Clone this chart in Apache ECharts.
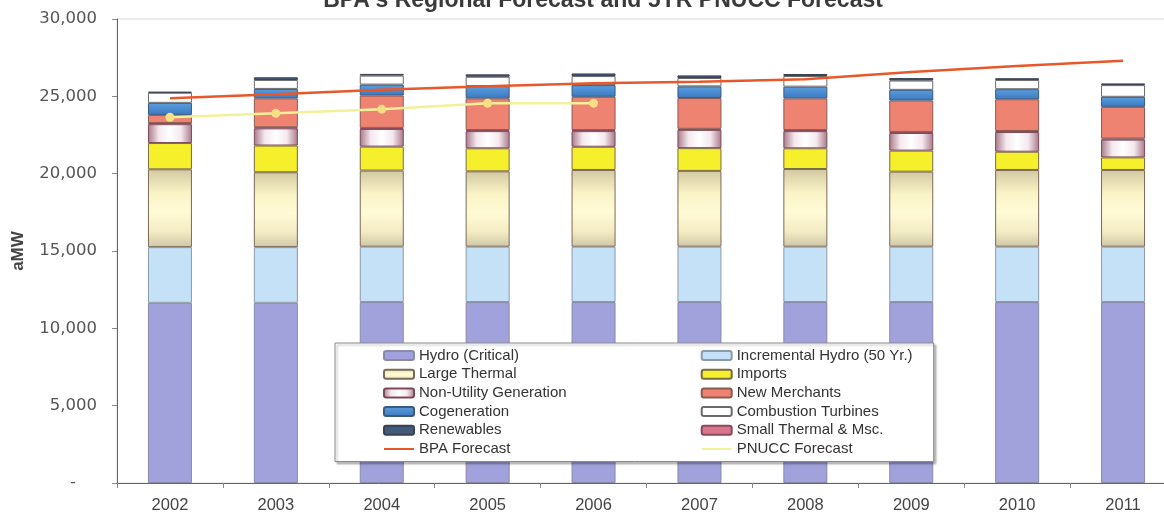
<!DOCTYPE html>
<html>
<head>
<meta charset="utf-8">
<style>
  html, body { margin: 0; padding: 0; background: #fff; }
  #chart { width: 1164px; height: 518px; }
</style>
<script src="https://cdn.jsdelivr.net/npm/echarts@6/dist/echarts.min.js"></script>
</head>
<body>
<div id="chart"></div>
<script>
// values (aMW)
const years = ['2002', '2003', '2004', '2005', '2006', '2007', '2008', '2009', '2010', '2011'];
const hydroCritical = [11650, 11650, 11700, 11700, 11700, 11700, 11700, 11700, 11700, 11700];
const incrementalHydro = [3600, 3600, 3580, 3580, 3580, 3580, 3580, 3580, 3580, 3580];
const largeThermal = [5030, 4840, 4920, 4870, 4960, 4900, 5020, 4850, 4960, 4960];
const imports = [1700, 1730, 1550, 1490, 1500, 1470, 1340, 1360, 1180, 810];
const nonUtility = [1220, 1110, 1140, 1110, 1010, 1180, 1110, 1140, 1270, 1150];
const smallThermal = [70, 70, 70, 70, 70, 70, 70, 70, 70, 70];
const newMerchants = [530, 1870, 2090, 2050, 2150, 1990, 2050, 2030, 2050, 2050];
const cogeneration = [780, 610, 710, 795, 755, 755, 755, 690, 650, 650];
const combustionTurbines = [650, 580, 580, 600, 585, 540, 690, 600, 600, 755];
const renewables = [65, 170, 110, 155, 170, 170, 130, 160, 110, 110];
const bpaForecast = [24880, 25140, 25430, 25650, 25840, 25950, 26100, 26580, 26960, 27300];
const pnuccForecast = [23650, 23900, 24170, 24550, 24560, null, null, null, null, null];

const chart = echarts.init(document.getElementById('chart'));
const G = echarts.graphic;

// fills, roughly like the old Excel picture
const fills = {
    hydro: '#a1a1dc',
    incr: '#c5e1f8',
    large: new G.LinearGradient(0, 0, 0, 1, [
        { offset: 0, color: '#d3c9a2' }, { offset: 0.3, color: '#f9f3c6' },
        { offset: 0.55, color: '#fffbd6' }, { offset: 0.8, color: '#f3ecc4' },
        { offset: 1, color: '#cfc7a8' }]),
    imports: '#f6ef2c',
    nonUtil: new G.LinearGradient(0, 0, 1, 0, [
        { offset: 0, color: '#a87888' }, { offset: 0.25, color: '#f4e8ee' },
        { offset: 0.5, color: '#ffffff' }, { offset: 0.75, color: '#f4e8ee' },
        { offset: 1, color: '#a87888' }]),
    small: '#d9748c',
    merchants: '#ef8372',
    cogen: new G.LinearGradient(0, 0, 0, 1, [
        { offset: 0, color: '#5b9fe0' }, { offset: 1, color: '#3b78bf' }]),
    ct: '#ffffff',
    renew: '#425a7e'
};

// stacking order, bottom to top
const bars = [
    ['Hydro (Critical)', hydroCritical, fills.hydro, '#8a8aa8'],
    ['Incremental Hydro (50 Yr.)', incrementalHydro, fills.incr, '#8a9aa8'],
    ['Large Thermal', largeThermal, fills.large, '#7a6a58'],
    ['Imports', imports, fills.imports, '#7a6a40'],
    ['Non-Utility Generation', nonUtility, fills.nonUtil, '#7a4a5a'],
    ['Small Thermal & Msc.', smallThermal, fills.small, '#8a4a5a'],
    ['New Merchants', newMerchants, fills.merchants, '#8a5a50'],
    ['Cogeneration', cogeneration, fills.cogen, '#3a5a80'],
    ['Combustion Turbines', combustionTurbines, fills.ct, '#6a6a6a'],
    ['Renewables', renewables, fills.renew, '#3a4050']
];

const series = bars.map(([name, data, color, border]) => ({
    name: name,
    type: 'bar',
    stack: 'supply',
    barWidth: 44,
    data: data,
    itemStyle: { color: color, borderColor: border, borderWidth: 1 },
    emphasis: { disabled: true }
}));

series.push({
    name: 'BPA Forecast',
    type: 'line',
    data: bpaForecast,
    symbol: 'none',
    z: 5,
    lineStyle: { color: '#e8582a', width: 2.5 },
    itemStyle: { color: '#e8582a' }
});
series.push({
    name: 'PNUCC Forecast',
    type: 'line',
    data: pnuccForecast,
    symbol: 'circle',
    symbolSize: 9,
    z: 5,
    lineStyle: { color: '#f3f09a', width: 2.5 },
    itemStyle: { color: '#f9df84' }
});

// legend reads row by row in two columns
const leftCol = 278, rightCol = 190;
const legendOrder = [
    'Hydro (Critical)', 'Incremental Hydro (50 Yr.)',
    'Large Thermal', 'Imports',
    'Non-Utility Generation', 'New Merchants',
    'Cogeneration', 'Combustion Turbines',
    'Renewables', 'Small Thermal & Msc.',
    'BPA Forecast', 'PNUCC Forecast'
];
const legendData = legendOrder.map((name, i) => {
    let item = { name: name, textStyle: { width: i % 2 === 0 ? leftCol : rightCol } };
    // lines show as plain strokes in the legend
    if (name.indexOf('Forecast') > -1) item.itemStyle = { opacity: 0 };
    return item;
});

const option = {
    backgroundColor: '#fff',
    animation: false,
    title: {
        text: "BPA's Regional Forecast and 5YR PNUCC Forecast",
        left: 603,
        top: -11,
        padding: 0,
        textAlign: 'center',
        textStyle: {
            fontFamily: 'Liberation Sans',
            fontSize: 23,
            fontWeight: 'bold',
            color: '#3a3a3a'
        }
    },
    grid: {
        left: 117,
        top: 19,
        width: 1059,
        height: 464,
        outerBoundsMode: 'none',
        show: true,
        borderColor: '#d8d8d8',
        borderWidth: 1,
        backgroundColor: 'transparent'
    },
    legend: {
        left: 335,
        top: 343,
        width: 545,
        padding: [5, 7, 5, 48],
        itemWidth: 30,
        itemHeight: 9,
        itemGap: 3.7,
        backgroundColor: '#fff',
        borderColor: '#8a8a8a',
        borderWidth: 1,
        shadowColor: 'rgba(0,0,0,0.25)',
        shadowOffsetX: 2,
        shadowOffsetY: 2,
        shadowBlur: 2,
        selectedMode: false,
        data: legendData,
        textStyle: {
            fontFamily: 'Liberation Sans',
            fontSize: 15,
            lineHeight: 15,
            color: '#333',
            overflow: 'truncate'
        }
    },
    xAxis: {
        type: 'category',
        data: years,
        axisLine: { lineStyle: { color: '#666', width: 1 } },
        axisTick: { show: true, length: 5, lineStyle: { color: '#888' } },
        axisLabel: {
            margin: 14,
            fontFamily: 'Liberation Sans',
            fontSize: 16.5,
            color: '#444'
        }
    },
    yAxis: {
        type: 'value',
        min: 0,
        max: 30000,
        interval: 5000,
        name: 'aMW',
        nameLocation: 'middle',
        nameGap: 90,
        nameTextStyle: {
            fontFamily: 'Liberation Sans',
            fontSize: 17,
            fontWeight: 'bold',
            color: '#444'
        },
        axisLine: { show: true, lineStyle: { color: '#666', width: 1 } },
        axisTick: { show: true, length: 5, lineStyle: { color: '#888' } },
        splitLine: { show: false },
        axisLabel: {
            margin: 20,
            fontFamily: 'DejaVu Sans',
            fontSize: 16.5,
            color: '#555',
            formatter: v => (v === 0 ? '-\u00a0\u00a0\u00a0\u00a0' : v.toLocaleString('en-US'))
        }
    },
    series: series
};

chart.setOption(option);
</script>
</body>
</html>
